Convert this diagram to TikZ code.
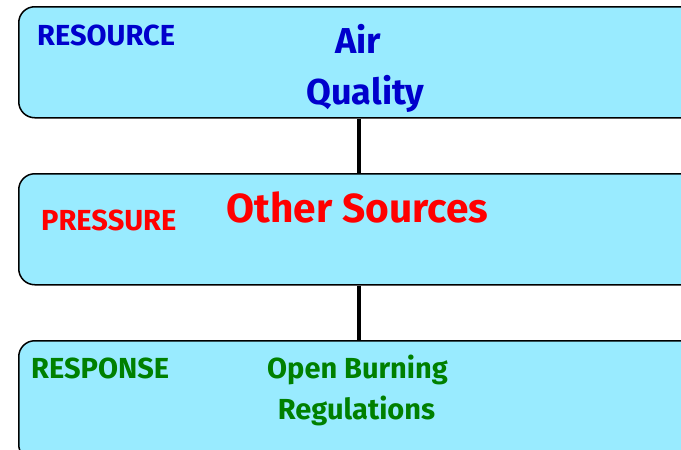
\documentclass[tikz,border=0pt]{standalone}
\usepackage{fontspec}
\setmainfont{Fira Sans}
\definecolor{boxfill}{RGB}{153,235,255}
\definecolor{tblue}{RGB}{0,0,204}
\definecolor{tred}{RGB}{255,0,0}
\definecolor{tgreen}{RGB}{0,128,0}
\tikzset{
  panel/.style={draw=black, line width=1.5pt, fill=boxfill, rounded corners=16pt,
    rectangle, minimum width=702pt, anchor=north west, inner sep=0pt},
  label/.style={anchor=base west, inner sep=0pt, font=\fontsize{29}{34}\selectfont\bfseries},
  body/.style={anchor=base, inner sep=0pt},
  spine/.style={draw=black, line width=4pt}
}
\begin{document}
\begin{tikzpicture}[x=1pt,y=-1pt]
  \useasboundingbox (0,0) rectangle (681,450);
  \clip (0,0) rectangle (681,450);
  \coordinate (axis) at (358.5,0);
  \node[panel, minimum height=111pt] (box1) at (18,6) {};
  \node[panel, minimum height=111pt] (box2) at (18,173) {};
  \node[panel, minimum height=120pt] (box3) at (18,340) {};
  \draw[spine] (box1.south -| axis) -- (box2.north -| axis);
  \draw[spine] (box2.south -| axis) -- (box3.north -| axis);
  % labels
  \node[label, text=tblue] (lres) at (37,45) {RESOURCE};
  \node[label, text=tred] (lpre) at (41,230) {PRESSURE};
  \node[label, text=tgreen] (lrsp) at (31,378) {RESPONSE};
  % texts
  \node[body, text=tblue, font=\fontsize{36}{40}\selectfont\bfseries] (air1) at (358.5,53) {Air};
  \node[body, text=tblue, font=\fontsize{36}{40}\selectfont\bfseries] (air2) at (365.5,104) {Quality};
  \node[body, text=tred, font=\fontsize{40.6}{44}\selectfont\bfseries] (oth) at (357.5,222) {Other Sources};
  \node[body, text=tgreen, font=\fontsize{29}{34}\selectfont\bfseries] (obr1) at (357.5,378) {Open Burning};
  \node[body, text=tgreen, font=\fontsize{29}{34}\selectfont\bfseries] (obr2) at (356.5,419) {Regulations};
\end{tikzpicture}
\end{document}
